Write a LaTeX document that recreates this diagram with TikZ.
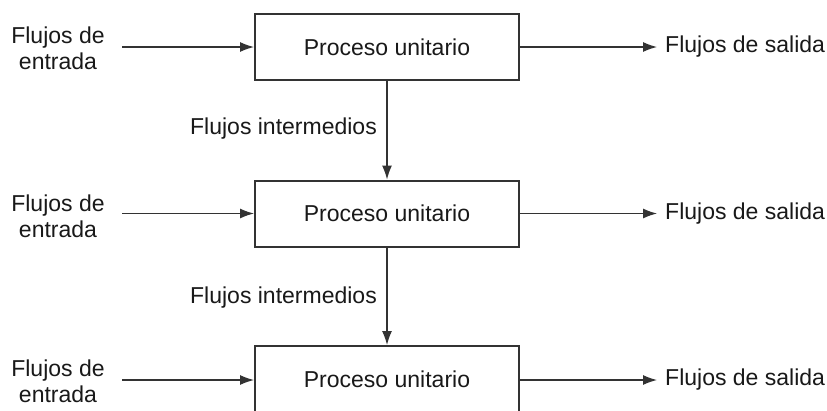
\documentclass[tikz,border=0pt]{standalone}
\usepackage{fontspec}
\setmainfont{Liberation Sans}
\usetikzlibrary{arrows.meta}
\begin{document}
\begin{tikzpicture}[x=1pt,y=-1pt,
  every node/.style={font=\fontsize{23}{26}\selectfont, text=black!90, inner sep=0pt},
  procbox/.style={draw=black!80, line width=2pt, minimum width=264pt, minimum height=66pt},
  flow/.style={draw=black!80, line width=1.2pt, -{Latex[length=14pt,width=10pt]}},
  lbl/.style={align=center}]
\path[use as bounding box] (0,0) rectangle (827,410);
\clip (0,0) rectangle (827,410);
\fill[white] (0,0) rectangle (827,410);
% boxes
\node[procbox] (p1) at (387,47) {Proceso unitario};
\node[procbox] (p2) at (387,213.5) {Proceso unitario};
\node[procbox] (p3) at (387,379) {Proceso unitario};
% input labels
\node[lbl] (i1) at (58,48) {Flujos de\\entrada};
\node[lbl] (i2) at (58,216) {Flujos de\\entrada};
\node[lbl] (i3) at (58,381) {Flujos de\\entrada};
\coordinate (s1) at (122,47);
\coordinate (s2) at (122,213.5);
\coordinate (s3) at (122,380);
\draw[flow] (s1) -- (p1.west);
\draw[flow] (s2) -- (p2.west);
\draw[flow] (s3) -- (p3.west |- s3);
% outputs
\coordinate (e1) at (657,47);
\coordinate (e2) at (657,213.5);
\coordinate (e3) at (657,380);
\node[anchor=west] (o1) at (665,47) {Flujos de salida};
\node[anchor=west] (o2) at (665,213.5) {Flujos de salida};
\node[anchor=west] (o3) at (665,380) {Flujos de salida};
\draw[flow] (p1.east) -- (e1);
\draw[flow] (p2.east) -- (e2);
\draw[flow] (p3.east |- e3) -- (e3);
% intermediate
\draw[flow] (p1.south) -- (p2.north);
\draw[flow] (p2.south) -- (p3.north);
\node[anchor=east] (m1) at (377,129) {Flujos intermedios};
\node[anchor=east] (m2) at (377,298) {Flujos intermedios};
\end{tikzpicture}
\end{document}
